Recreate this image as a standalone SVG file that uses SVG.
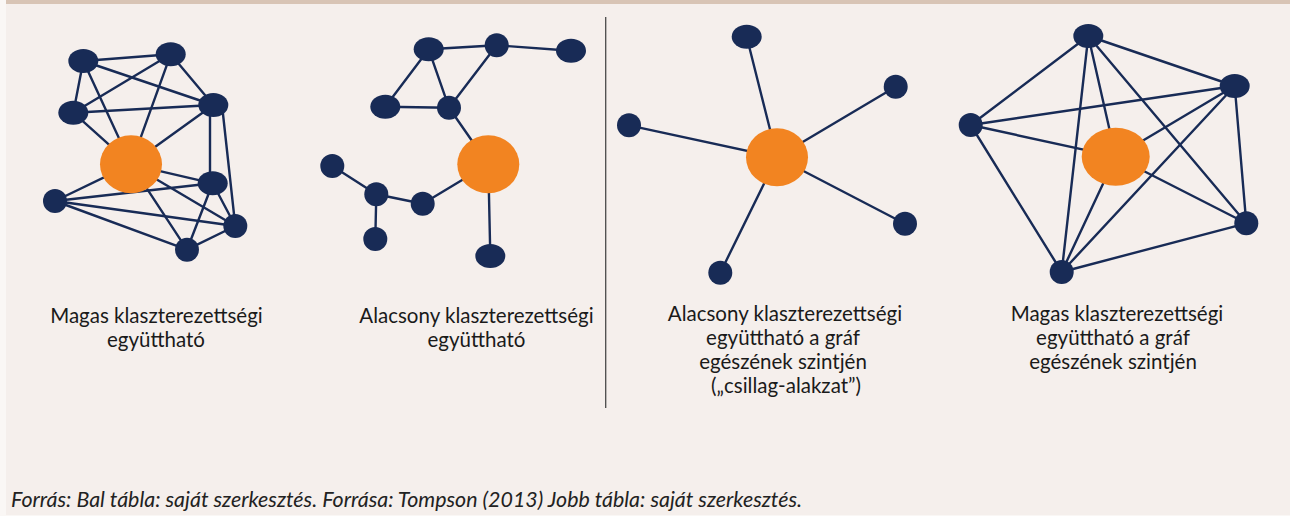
<svg xmlns="http://www.w3.org/2000/svg" width="1290" height="516" viewBox="0 0 1290 516">
<style>
.bg{fill:#F5EFEC}
.band{fill:#D8C4B5}
.e{stroke:#182B56;stroke-width:2.4;fill:none;stroke-linecap:round}
.n{fill:#182B56}
.c{fill:#F28421}
.lbl{font-family:Lato,"Open Sans","Liberation Sans",sans-serif;font-size:20.5px;fill:#1A1A1A;text-anchor:middle}
.src{font-family:Lato,"Open Sans","Liberation Sans",sans-serif;font-size:21.4px;font-style:italic;fill:#222}
</style>
<rect x="0" y="0" width="1290" height="516" fill="#FAF7F5"/>
<rect class="bg" x="6" y="0" width="1284" height="515"/>
<rect class="band" x="6" y="0" width="1284" height="4"/>
<line x1="605.7" y1="17" x2="605.7" y2="408" stroke="#4A4A4A" stroke-width="1.3"/>

<g id="connectors">
  <!-- graph 1 -->
  <line class="e" x1="83.3" y1="61" x2="170.7" y2="54.3"/>
  <line class="e" x1="83.3" y1="61" x2="73.3" y2="112.7"/>
  <line class="e" x1="83.3" y1="61" x2="213.3" y2="105"/>
  <line class="e" x1="83.3" y1="61" x2="131" y2="164.3"/>
  <line class="e" x1="170.7" y1="54.3" x2="73.3" y2="112.7"/>
  <line class="e" x1="170.7" y1="54.3" x2="131" y2="164.3"/>
  <line class="e" x1="170.7" y1="54.3" x2="213.3" y2="105"/>
  <line class="e" x1="73.3" y1="112.7" x2="213.3" y2="105"/>
  <line class="e" x1="73.3" y1="112.7" x2="131" y2="164.3"/>
  <line class="e" x1="213.3" y1="105" x2="131" y2="164.3"/>
  <line class="e" x1="210" y1="105" x2="210" y2="183.3"/>
  <line class="e" x1="222" y1="105" x2="235.3" y2="226"/>
  <line class="e" x1="131" y1="164.3" x2="55" y2="201"/>
  <line class="e" x1="131" y1="164.3" x2="212.7" y2="183.3"/>
  <line class="e" x1="131" y1="164.3" x2="235.3" y2="226"/>
  <line class="e" x1="131" y1="164.3" x2="187" y2="249.7"/>
  <line class="e" x1="55" y1="201" x2="212.7" y2="183.3"/>
  <line class="e" x1="55" y1="201" x2="235.3" y2="226"/>
  <line class="e" x1="55" y1="201" x2="187" y2="249.7"/>
  <line class="e" x1="212.7" y1="183.3" x2="187" y2="249.7"/>
  <line class="e" x1="212.7" y1="183.3" x2="235.3" y2="226"/>
  <line class="e" x1="187" y1="249.7" x2="235.3" y2="226"/>
  <!-- graph 2 -->
  <line class="e" x1="428.7" y1="49.3" x2="496.7" y2="45.3"/>
  <line class="e" x1="496.7" y1="45.3" x2="571" y2="50.7"/>
  <line class="e" x1="428.7" y1="49.3" x2="385.3" y2="106.7"/>
  <line class="e" x1="428.7" y1="49.3" x2="449" y2="107.7"/>
  <line class="e" x1="385.3" y1="106.7" x2="449" y2="107.7"/>
  <line class="e" x1="496.7" y1="45.3" x2="449" y2="107.7"/>
  <line class="e" x1="449" y1="107.7" x2="488.3" y2="164.3"/>
  <line class="e" x1="488.3" y1="164.3" x2="422.7" y2="203.7"/>
  <line class="e" x1="422.7" y1="203.7" x2="376.3" y2="194.3"/>
  <line class="e" x1="376.3" y1="194.3" x2="332.3" y2="166"/>
  <line class="e" x1="376.3" y1="194.3" x2="375.3" y2="239"/>
  <line class="e" x1="488.3" y1="164.3" x2="490.3" y2="256"/>
  <!-- graph 3 -->
  <line class="e" x1="777" y1="157.3" x2="746.7" y2="36.7"/>
  <line class="e" x1="777" y1="157.3" x2="895.7" y2="86.7"/>
  <line class="e" x1="777" y1="157.3" x2="629" y2="125.3"/>
  <line class="e" x1="777" y1="157.3" x2="905" y2="223.7"/>
  <line class="e" x1="777" y1="157.3" x2="720.3" y2="272.7"/>
  <!-- graph 4 -->
  <line class="e" x1="1088.3" y1="36" x2="1234.7" y2="86"/>
  <line class="e" x1="1088.3" y1="36" x2="970.7" y2="125"/>
  <line class="e" x1="1088.3" y1="36" x2="1061.7" y2="272"/>
  <line class="e" x1="1088.3" y1="36" x2="1115.7" y2="156.7"/>
  <line class="e" x1="1088.3" y1="36" x2="1246.3" y2="223.3"/>
  <line class="e" x1="1234.7" y1="86" x2="970.7" y2="125"/>
  <line class="e" x1="1234.7" y1="86" x2="1115.7" y2="156.7"/>
  <line class="e" x1="1234.7" y1="86" x2="1061.7" y2="272"/>
  <line class="e" x1="1234.7" y1="86" x2="1246.3" y2="223.3"/>
  <line class="e" x1="970.7" y1="125" x2="1115.7" y2="156.7"/>
  <line class="e" x1="970.7" y1="125" x2="1061.7" y2="272"/>
  <line class="e" x1="1115.7" y1="156.7" x2="1246.3" y2="223.3"/>
  <line class="e" x1="1115.7" y1="156.7" x2="1061.7" y2="272"/>
  <line class="e" x1="1061.7" y1="272" x2="1246.3" y2="223.3"/>
</g>

<!-- graph 1 nodes -->
<g id="g1-a"><ellipse class="n" cx="83.3" cy="61" rx="15" ry="12"/></g>
<g id="g1-b"><ellipse class="n" cx="170.7" cy="54.3" rx="15" ry="12"/></g>
<g id="g1-c"><ellipse class="n" cx="73.3" cy="112.7" rx="15" ry="12"/></g>
<g id="g1-d"><ellipse class="n" cx="213.3" cy="105" rx="15" ry="12"/></g>
<g id="g1-center"><ellipse class="c" cx="131" cy="164.3" rx="31" ry="29"/></g>
<g id="g1-e"><ellipse class="n" cx="212.7" cy="183.3" rx="15" ry="12"/></g>
<g id="g1-f"><circle class="n" cx="55" cy="201" r="12"/></g>
<g id="g1-g"><circle class="n" cx="235.3" cy="226" r="12"/></g>
<g id="g1-h"><circle class="n" cx="187" cy="249.7" r="12"/></g>
<!-- graph 2 nodes -->
<g id="g2-a"><ellipse class="n" cx="428.7" cy="49.3" rx="15" ry="12"/></g>
<g id="g2-b"><circle class="n" cx="496.7" cy="45.3" r="12"/></g>
<g id="g2-c"><ellipse class="n" cx="571" cy="50.7" rx="15" ry="12"/></g>
<g id="g2-d"><ellipse class="n" cx="385.3" cy="106.7" rx="15" ry="12"/></g>
<g id="g2-e"><circle class="n" cx="449" cy="107.7" r="12"/></g>
<g id="g2-center"><ellipse class="c" cx="488.3" cy="164.3" rx="31" ry="29"/></g>
<g id="g2-f"><circle class="n" cx="332.3" cy="166" r="12"/></g>
<g id="g2-g"><circle class="n" cx="376.3" cy="194.3" r="12"/></g>
<g id="g2-h"><circle class="n" cx="422.7" cy="203.7" r="12"/></g>
<g id="g2-i"><circle class="n" cx="375.3" cy="239" r="12"/></g>
<g id="g2-j"><ellipse class="n" cx="490.3" cy="256" rx="15" ry="12"/></g>
<!-- graph 3 nodes -->
<g id="g3-a"><ellipse class="n" cx="746.7" cy="36.7" rx="15" ry="12"/></g>
<g id="g3-b"><circle class="n" cx="895.7" cy="86.7" r="12"/></g>
<g id="g3-c"><circle class="n" cx="629" cy="125.3" r="12"/></g>
<g id="g3-center"><ellipse class="c" cx="777" cy="157.3" rx="31" ry="29"/></g>
<g id="g3-d"><circle class="n" cx="905" cy="223.7" r="12"/></g>
<g id="g3-e"><circle class="n" cx="720.3" cy="272.7" r="12"/></g>
<!-- graph 4 nodes -->
<g id="g4-a"><ellipse class="n" cx="1088.3" cy="36" rx="15" ry="12"/></g>
<g id="g4-b"><ellipse class="n" cx="1234.7" cy="86" rx="15" ry="12"/></g>
<g id="g4-c"><circle class="n" cx="970.7" cy="125" r="12"/></g>
<g id="g4-center"><ellipse class="c" cx="1115.7" cy="156.7" rx="34" ry="29"/></g>
<g id="g4-d"><circle class="n" cx="1246.3" cy="223.3" r="12"/></g>
<g id="g4-e"><circle class="n" cx="1061.7" cy="272" r="12"/></g>

<g id="labels">
  <text class="lbl" x="156.5" y="322.5">Magas klaszterezettségi</text>
  <text class="lbl" x="156" y="346.5">együttható</text>
  <text class="lbl" x="476.5" y="322.5">Alacsony klaszterezettségi</text>
  <text class="lbl" x="476.5" y="346.5">együttható</text>
  <text class="lbl" x="785" y="321">Alacsony klaszterezettségi</text>
  <text class="lbl" x="783" y="345">együttható a gráf</text>
  <text class="lbl" x="783" y="369">egészének szintjén</text>
  <text class="lbl" x="786" y="393">(„csillag-alakzat”)</text>
  <text class="lbl" x="1117" y="321">Magas klaszterezettségi</text>
  <text class="lbl" x="1113" y="345">együttható a gráf</text>
  <text class="lbl" x="1113" y="369">egészének szintjén</text>
</g>
<text class="src" x="11" y="507" textLength="791" lengthAdjust="spacingAndGlyphs">Forrás: Bal tábla: saját szerkesztés. Forrása: Tompson (2013) Jobb tábla: saját szerkesztés.</text>
</svg>
